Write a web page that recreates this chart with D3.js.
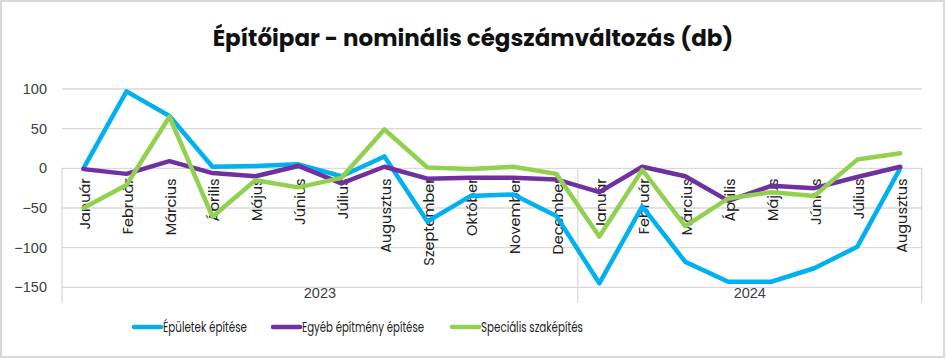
<!DOCTYPE html>
<html><head><meta charset="utf-8">
<script src="https://cdn.jsdelivr.net/npm/d3@7"></script>
<style>body{margin:0;background:#fff;}svg{display:block;}</style>
</head><body>
<svg id="c" width="946" height="359"></svg>
<script>
const months = ["Január","Február","Március","Április","Május","Június","Július","Augusztus","Szeptember","Október","November","December","Január","Február","Március","Április","Május","Június","Július","Augusztus"];
const years = [{label:"2023", count:12},{label:"2024", count:8}];
const epuletek = [0,97,66,2,3,5,-10,15,-67,-35,-33,-60,-145,-48,-118,-143,-143,-126,-99,0];
const egyeb = [-1,-7,9,-6,-10,3,-19,2,-13,-12,-12,-14,-30,2,-10,-41,-22,-25,-11,2];
const specialis = [-50,-21,65,-61,-15,-24,-12,49,1,-1,2,-7,-86,-2,-73,-38,-30,-35,11,19];
const yTicks = [100,50,0,-50,-100,-150];
const seriesNames = ["Épületek építése","Egyéb építmény építése","Speciális szaképítés"];
const colors = ["#00B0F0","#7030A0","#92D050"];

const svg = d3.select("#c");
const font = "Poppins, 'Open Sans', Lato, sans-serif";
const numFont = "'Liberation Sans', Arial, sans-serif";
const pLeft=62, pRight=921.7, pTop=89, pBottom=287.3;

svg.append("rect").attr("x",1).attr("y",1).attr("width",943).attr("height",356)
  .attr("fill","#fff").attr("stroke","#d9d9d9").attr("stroke-width",2);

const x = d3.scaleBand().domain(d3.range(months.length)).range([pLeft,pRight]);
const y = d3.scaleLinear().domain([-150,100]).range([pBottom,pTop]);

// gridlines
svg.append("g").selectAll("line").data(yTicks).join("line")
  .attr("x1",pLeft).attr("x2",pRight).attr("y1",d=>y(d)).attr("y2",d=>y(d))
  .attr("stroke","#d9d9d9").attr("stroke-width",1.3);

// y labels
svg.append("g").selectAll("text").data(yTicks).join("text")
  .attr("x",47).attr("y",d=>y(d)).attr("dy","0.35em").attr("text-anchor","end")
  .attr("font-family",numFont).attr("font-size",14.5).attr("fill","#404040")
  .text(d=>d<0? "\u2212"+Math.abs(d) : d);

// category axis group separators
const yBottomAxis = 303;
let idx=0;
const seps=[0];
years.forEach(g=>{idx+=g.count; seps.push(idx);});
svg.append("g").selectAll("line").data(seps).join("line")
  .attr("x1",d=>d===months.length? pRight : x(d)).attr("x2",d=>d===months.length? pRight : x(d))
  .attr("y1",y(0)).attr("y2",yBottomAxis).attr("stroke","#d9d9d9").attr("stroke-width",1.3);

// year labels
let start=0;
years.forEach(g=>{
  const x0 = x(start), x1 = (start+g.count===months.length)? pRight : x(start+g.count);
  svg.append("text").attr("x",(x0+x1)/2).attr("y",293).attr("dy","0.35em").attr("text-anchor","middle")
    .attr("font-family",numFont).attr("font-size",14.5).attr("fill","#404040").text(g.label);
  start+=g.count;
});

// month labels rotated
svg.append("g").selectAll("text").data(months).join("text")
  .attr("transform",(d,i)=>`translate(${x(i)+x.bandwidth()/2+6.5},${y(0)+10}) rotate(-90)`)
  .attr("text-anchor","end").attr("font-family",font).attr("font-size",14.5).attr("fill","#222").text(d=>d);

// lines
const line = d3.line().x((d,i)=>x(i)+x.bandwidth()/2).y(d=>y(d));
[epuletek,egyeb,specialis].forEach((s,k)=>{
  svg.append("path").datum(s).attr("d",line).attr("fill","none")
    .attr("stroke",colors[k]).attr("stroke-width",4.5).attr("stroke-linejoin","round").attr("stroke-linecap","round");
});

// title
svg.append("text").attr("x",473).attr("y",38).attr("dy","0.35em").attr("text-anchor","middle")
  .attr("font-family",font).attr("font-weight","bold").attr("font-size",23).attr("fill","#111")
  .text("Építőipar - nominális cégszámváltozás (db)");

// legend
const legX=[132,271,450];
const legW=[84,122,102];
seriesNames.forEach((n,k)=>{
  svg.append("line").attr("x1",legX[k]+2).attr("x2",legX[k]+29).attr("y1",327).attr("y2",327)
    .attr("stroke",colors[k]).attr("stroke-width",4.5).attr("stroke-linecap","round");
  svg.append("text").attr("x",legX[k]+31).attr("y",327).attr("dy","0.35em")
    .attr("font-family",font).attr("font-size",14).attr("fill","#222")
    .attr("textLength",legW[k]).attr("lengthAdjust","spacingAndGlyphs").text(n);
});
</script>
</body></html>
